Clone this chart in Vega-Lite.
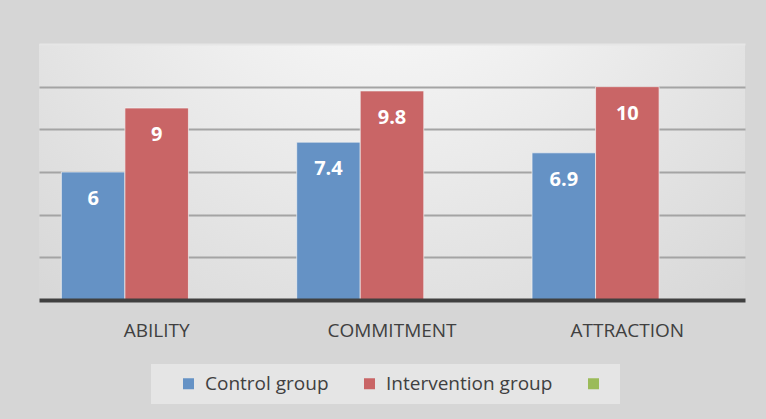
{
  "$schema": "https://vega.github.io/schema/vega-lite/v6.json",
  "width": 706,
  "height": 256,
  "autosize": {"type": "none"},
  "padding": {"left": 39, "top": 44, "right": 21, "bottom": 119},
  "background": "#d6d6d6",
  "data": {
    "values": [
      {"category": "ABILITY", "group": "Control group", "value": 6},
      {"category": "ABILITY", "group": "Intervention group", "value": 9},
      {"category": "COMMITMENT", "group": "Control group", "value": 7.4},
      {"category": "COMMITMENT", "group": "Intervention group", "value": 9.8},
      {"category": "ATTRACTION", "group": "Control group", "value": 6.9},
      {"category": "ATTRACTION", "group": "Intervention group", "value": 10}
    ]
  },
  "encoding": {
    "x": {
      "field": "category",
      "type": "nominal",
      "sort": ["ABILITY", "COMMITMENT", "ATTRACTION"],
      "scale": {"paddingInner": 0.19, "paddingOuter": 0.095},
      "axis": {
        "title": null,
        "labelAngle": 0,
        "ticks": false,
        "domain": true,
        "domainColor": "#404040",
        "domainWidth": 4,
        "labelFont": "Open Sans",
        "labelFontSize": 19,
        "labelColor": "#404040",
        "labelPadding": 21,
        "zindex": 1
      }
    },
    "xOffset": {
      "field": "group",
      "type": "nominal",
      "scale": {"domain": ["Control group", "Intervention group", " "], "paddingInner": 0, "paddingOuter": 0}
    },
    "y": {
      "field": "value",
      "type": "quantitative",
      "scale": {"domain": [0, 12], "nice": false},
      "axis": {
        "title": null,
        "labels": false,
        "ticks": false,
        "domain": false,
        "values": [2, 4, 6, 8, 10, 12],
        "grid": true,
        "gridWidth": 2,
        "gridColor": {"condition": {"test": "datum.value === 12", "value": "#e6e6e6"}, "value": "#a4a4a4"}
      }
    }
  },
  "layer": [
    {
      "mark": {"type": "bar", "stroke": "#f2f2f2", "strokeWidth": 1, "strokeOpacity": 0.7},
      "encoding": {
        "color": {
          "field": "group",
          "type": "nominal",
          "scale": {"domain": ["Control group", "Intervention group", " "], "range": ["#6592c5", "#c96566", "#9bbb59"]},
          "legend": {
            "title": null,
            "orient": "none",
            "legendX": 112,
            "legendY": 320,
            "direction": "horizontal",
            "fillColor": "#e5e5e5",
            "padding": 10,
            "symbolType": "square",
            "symbolSize": 121,
            "symbolStrokeWidth": 0,
            "symbolOpacity": 1,
            "symbolOffset": 18,
            "columnPadding": 13,
            "labelOffset": 7,
            "labelLimit": 400,
            "labelFont": "Open Sans",
            "labelFontSize": 19,
            "labelColor": "#404040"
          }
        }
      }
    },
    {
      "mark": {"type": "text", "color": "white", "fontWeight": "bold", "font": "Open Sans", "fontSize": 20, "baseline": "middle", "dy": 27},
      "encoding": {
        "text": {"field": "value", "type": "quantitative"}
      }
    }
  ],
  "config": {
    "view": {
      "stroke": null,
      "fill": {
        "gradient": "radial",
        "x1": 0.5, "y1": 0.1, "r1": 0,
        "x2": 0.5, "y2": 0.1, "r2": 0.75,
        "stops": [
          {"offset": 0, "color": "#ffffff"},
          {"offset": 1, "color": "#d8d8d8"}
        ]
      }
    }
  }
}
